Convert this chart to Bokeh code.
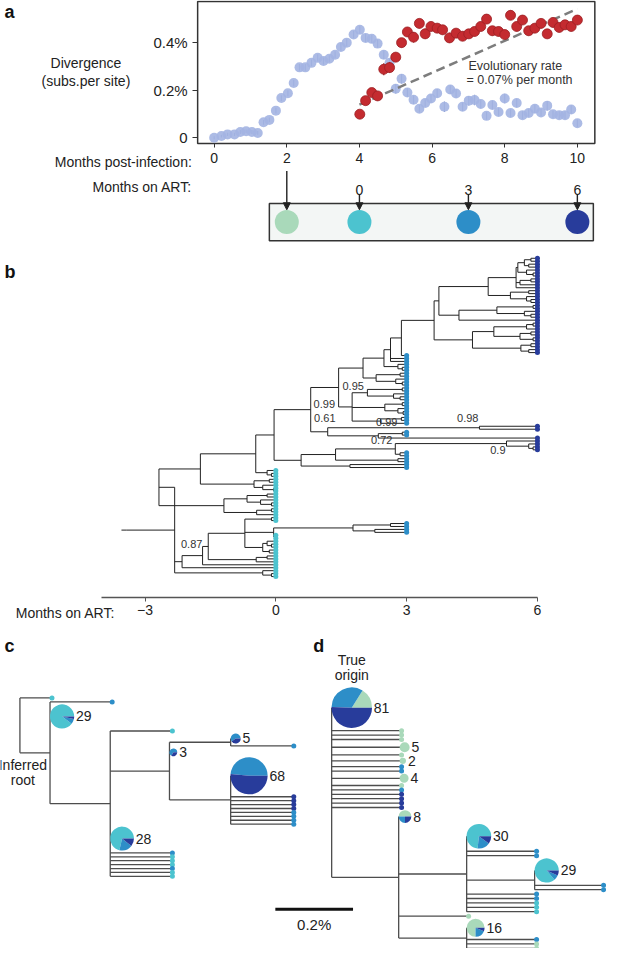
import math
import re

from bokeh.plotting import figure
from bokeh.models import Range1d, LinearAxis, FixedTicker, Label, Arrow, NormalHead
from bokeh.layouts import column
from bokeh.core.properties import value
from bokeh.embed import file_html
from bokeh.resources import INLINE

FONT = "Liberation Sans"
COL_G = "#a9d9ba"   # 2 months post-infection (pre-ART)
COL_A = "#4cc3cf"   # 0 months on ART
COL_B = "#2d8ec8"   # 3 months on ART
COL_C = "#283c9b"   # 6 months on ART
SAMPLE_COL = {"g": COL_G, "a": COL_A, "b": COL_B, "c": COL_C}

# ------------------------------------------------------------------ panel a data
blue_months = [0.0, 0.2, 0.37, 0.56, 0.72, 0.88, 1.04, 1.2, 1.36, 1.52,
               1.7, 1.85, 2.03, 2.19, 2.35, 2.51, 2.68, 2.85, 3.01, 3.17,
               3.33, 3.49, 3.65, 3.84, 4.01, 4.17, 4.34, 4.5, 4.67, 4.83,
               5.0, 5.16, 5.32, 5.49, 5.65, 5.81, 5.97, 6.14, 6.34, 6.5,
               6.66, 6.84, 7.01, 7.17, 7.34, 7.5, 7.66, 7.83, 8.0, 8.16,
               8.33, 8.49, 8.66, 8.83, 9.0, 9.17, 9.33, 9.5, 9.66, 9.83, 10.0]
blue_div = [0.0, 0.007, 0.014, 0.014, 0.024, 0.027, 0.024, 0.02, 0.065, 0.075,
            0.114, 0.167, 0.187, 0.23, 0.296, 0.296, 0.315, 0.336, 0.323, 0.332,
            0.349, 0.382, 0.4, 0.434, 0.454, 0.42, 0.416, 0.396, 0.349, 0.315,
            0.206, 0.248, 0.19, 0.16, 0.122, 0.146, 0.165, 0.187, 0.13, 0.203,
            0.186, 0.13, 0.156, 0.159, 0.142, 0.092, 0.138, 0.108, 0.165, 0.104,
            0.146, 0.095, 0.104, 0.122, 0.106, 0.135, 0.099, 0.095, 0.095, 0.119, 0.061]
blue_err = [0.006, 0.006, 0.007, 0.007, 0.008, 0.008, 0.008, 0.008, 0.01, 0.01,
            0.012, 0.012, 0.013, 0.013, 0.014, 0.014, 0.014, 0.015, 0.015, 0.015,
            0.015, 0.016, 0.016, 0.016, 0.017, 0.017, 0.017, 0.017, 0.018, 0.018,
            0.02, 0.02, 0.018, 0.018, 0.016, 0.016, 0.018, 0.018, 0.022, 0.018,
            0.018, 0.018, 0.02, 0.022, 0.018, 0.016, 0.018, 0.016, 0.02, 0.016,
            0.018, 0.016, 0.016, 0.018, 0.016, 0.02, 0.016, 0.016, 0.016, 0.018, 0.016]

red_months = [4.01, 4.17, 4.34, 4.5, 4.67, 4.83, 5.0, 5.16, 5.32, 5.49,
              5.65, 5.81, 5.97, 6.14, 6.29, 6.48, 6.66, 6.84, 7.01, 7.17,
              7.34, 7.5, 7.66, 7.83, 8.0, 8.16, 8.33, 8.49, 8.66, 8.83,
              9.0, 9.17, 9.33, 9.5, 9.66, 9.83, 10.0]
red_div = [0.099, 0.156, 0.19, 0.176, 0.288, 0.295, 0.339, 0.4, 0.445, 0.423,
           0.481, 0.437, 0.468, 0.461, 0.454, 0.42, 0.44, 0.427, 0.437, 0.447,
           0.468, 0.499, 0.45, 0.447, 0.434, 0.515, 0.468, 0.495, 0.45, 0.461,
           0.481, 0.437, 0.485, 0.464, 0.475, 0.468, 0.495]
red_err = [0.015, 0.016, 0.018, 0.018, 0.025, 0.022, 0.02, 0.02, 0.02, 0.022,
           0.02, 0.022, 0.02, 0.02, 0.02, 0.022, 0.02, 0.02, 0.02, 0.02,
           0.02, 0.02, 0.02, 0.02, 0.02, 0.02, 0.02, 0.02, 0.02, 0.02,
           0.02, 0.02, 0.02, 0.02, 0.02, 0.02, 0.02]

rate_months = [4.0, 10.0]
rate_div = [0.139, 0.542]
rate_text = ["Evolutionary rate", "= 0.07% per month"]

post_inf_ticks = [0, 2, 4, 6, 8, 10]
div_ticks = [0, 0.2, 0.4]
div_tick_labels = ["0", "0.2%", "0.4%"]
art_ticks_post_inf = [4, 7, 10]
art_tick_labels = ["0", "3", "6"]
sample_months_post_inf = [2, 4, 7, 10]
sample_colors = [COL_G, COL_A, COL_B, COL_C]

# ------------------------------------------------------------------ panel b tree
# internal node value = node time in months on ART; leaves a/b/c = 0/3/6 months
S1 = "((((c,c):5.85,(c,c):5.8):5.7,(c,(c,c):5.9):5.75):5.55,((c,c):5.85,c):5.6,c):5.51"
S2 = "((c,c):5.8,(c,(c,c):5.85):5.75):5.38"
S3 = "((c,c):5.9,(c,(c,c):5.85):5.7):5.07"
S4 = "(((c,c):5.9,c):5.75,((c,c):5.85,(c,c):5.9):5.6):5.0"
S5 = "((c,c):5.85,(c,c):5.8):5.62"
Q = "(((" + S1 + "," + S2 + "):4.87,(" + S3 + ",c):4.2):3.74,(" + S4 + "," + S5 + "):4.51):3.63"
N374 = "((((" + Q + ",b):2.88,b,b):2.63,(b,(b,b):2.9):2.8):2.48,((b,b):2.85,(b,(b,b):2.9):2.75):2.3):2.0"
N362 = "(((b,b):2.9,(b,(b,b):2.85):2.7):2.1,((b,b):2.9,(b,(b,b):2.92):2.8):2.5,((b,b):2.88,b):2.4):1.75"
N340 = "((c,c)[0.98]:4.67,((b,b)[0.99]:2.9,c):2.35)[0.61]:1.19"
N320 = "((" + N374 + "," + N362 + ")[0.95]:1.44," + N340 + ")[0.99]:0.8"
N408 = "((c,(c,(c,c):5.9):5.8)[0.9]:5.29,(b,b):2.85)[0.72]:2.74"
N310 = "((" + N408 + ",(b,b):2.8):1.37,(b,b):1.7):0.58"
N206 = "(((" + N320 + "," + N310 + "):-0.04,(a,(a,a):-0.1):-0.2):-0.46,((a,a):-0.15,(a,(a,a):-0.05):-0.3):-0.5):-1.73"
N232 = "(((a,a):-0.2,(a,(a,a):-0.1):-0.35):-0.66,((a,a):-0.1,a):-0.44):-1.19"
N253 = "((a,a):-0.1,(((b,b):2.63,(b,b):2.27):1.77,(a,a):-0.02):-0.05,((a,(a,a):-0.1):-0.2,(a,a):-0.15):-0.3):-0.71"
CL = "(((" + N253 + ",((a,a):-0.2,a):-0.45)[0.87]:-1.55,a):-1.68,a):-2.15,(a,(a,a):-0.1):-0.3):-2.32"
TREE_B = "(((" + N206 + "," + N232 + "):-2.68," + CL + "):-3.43,a)[1]:-3.74"
art_axis_ticks = [-3, 0, 3, 6]

# ------------------------------------------------------------------ panels c, d trees
# value = branch length (% divergence); {..} = pie of identical sequences
C_N4 = "({b3;c2},b:0.1625):0.1575"
C_N5 = "({b33;c35},c:0.1625,c:0.1625,c:0.1625,c:0.1625,b:0.1625,b:0.1625,b:0.1625,b:0.1625):0.1575"
C_N3 = "(" + C_N4 + ",{b2;c1}," + C_N5 + "):0.1525"
C_N2 = "(a:0.16," + C_N3 + ",{a20;b5;c3},b:0.16,a:0.16,a:0.16,a:0.16,b:0.16,a:0.16,a:0.16):0.155"
TREE_C = "(a:0.0825,(b:0.16,{a26;b2;c1}," + C_N2 + "):0.0775)"

D_N4 = "({a25;b2;c2},b:0.1775,b:0.1775):0.175"
D_N2 = "({a22;b5;c3},b:0.18,b:0.18," + D_N4 + ",b:0.18,b:0.18,a:0.18,a:0.18,a:0.18):0.175"
D_N3 = "({g12;b3;c1},b:0.18,g:0.18,g:0.18):0.175"
D_N1 = "({g4;b2;c2}," + D_N2 + ",g:0.18," + D_N3 + "):0.1725"
TREE_D = ("({g13;b27;c41},g:0.18,g:0.18,g:0.18,{g5}:0.18,g:0.18,{g2}:0.18,b:0.18,b:0.18,"
          "{g4}:0.18,g:0.18,b:0.18,c:0.18,c:0.18,c:0.18,c:0.18," + D_N1 + ")")
scale_bar_pct = 0.2


def parse_newick(s):
    s = re.sub(r"\s+", "", s)
    num_re = re.compile(r"-?\d+(\.\d+)?")
    pos = 0

    def node():
        nonlocal pos
        n = {}
        if s[pos] == "(":
            pos += 1
            kids = [node()]
            while s[pos] == ",":
                pos += 1
                kids.append(node())
            pos += 1
            n["children"] = kids
        elif s[pos] == "{":
            end = s.index("}", pos)
            n["pie"] = {p[0]: int(p[1:]) for p in s[pos + 1:end].split(";")}
            pos = end + 1
        else:
            n["leaf"] = s[pos]
            pos += 1
        if pos < len(s) and s[pos] == "[":
            end = s.index("]", pos)
            n["label"] = s[pos + 1:end]
            pos = end + 1
        if pos < len(s) and s[pos] == ":":
            pos += 1
            m = num_re.match(s, pos)
            n["v"] = float(m.group())
            pos = m.end()
        return n

    return node()


def base_fig(**kw):
    p = figure(output_backend="svg", toolbar_location=None, min_border=0,
               x_axis_location=None, y_axis_location=None, **kw)
    p.grid.visible = False
    p.outline_line_color = None
    p.background_fill_color = "white"
    p.border_fill_color = "white"
    return p


def style_axis(ax, size="14px"):
    ax.major_label_text_font = FONT
    ax.major_label_text_font_size = size
    ax.major_label_text_color = "#222222"
    ax.minor_tick_line_color = None


def add_label(p, x, y, text, size="14px", align="left", baseline="middle", bold=False, color="#222222"):
    p.add_layout(Label(x=x, y=y, text=text, text_font=FONT, text_font_size=size,
                       text_align=align, text_baseline=baseline, text_color=color,
                       text_font_style="bold" if bold else "normal"))


# ================================================================== panel a + ART row
# reference layout: 0 months at x=220 px, 37.4 px/month; 0% at y=140 px, 242.5 px per 1%
def ya(ref_px):
    return (140 - ref_px) / 242.5


A_X0, A_X1 = -0.4545, 10.481          # panel a frame (months post-infection)
A_Y0, A_Y1 = ya(146), ya(1)            # panel a frame (% divergence)

pA = base_fig(width=606, height=247, x_range=Range1d((0 - 220) / 37.4, (624 - 220) / 37.4),
              y_range=Range1d(ya(252), ya(0)))

pA.quad(left=[A_X0], right=[A_X1], bottom=[A_Y0], top=[A_Y1], fill_color=None,
        line_color="#333333", line_width=1.5)

ax_x = LinearAxis(fixed_location=A_Y0, ticker=FixedTicker(ticks=post_inf_ticks),
                  axis_line_color=None, major_tick_out=4, major_tick_in=0,
                  major_tick_line_color="#333333", major_label_standoff=5)
style_axis(ax_x)
pA.add_layout(ax_x, "below")
ax_y = LinearAxis(fixed_location=A_X0, ticker=FixedTicker(ticks=div_ticks),
                  major_label_overrides=dict(zip(div_ticks, div_tick_labels)),
                  axis_line_color=None, major_tick_out=5, major_tick_in=0,
                  major_tick_line_color="#333333", major_label_standoff=5)
style_axis(ax_y, "15px")
pA.add_layout(ax_y, "left")
ax_art = LinearAxis(fixed_location=ya(181), ticker=FixedTicker(ticks=art_ticks_post_inf),
                    major_label_overrides=dict(zip(art_ticks_post_inf, art_tick_labels)),
                    axis_line_color=None, major_tick_line_color=None, major_label_standoff=1)
style_axis(ax_art)
pA.add_layout(ax_art, "below")

pA.segment(x0=blue_months, x1=blue_months,
           y0=[d - e for d, e in zip(blue_div, blue_err)],
           y1=[d + e for d, e in zip(blue_div, blue_err)],
           line_color="#8797cc", line_width=1.2)
pA.scatter(blue_months, blue_div, size=10, fill_color="#a3b4e2", fill_alpha=0.9, line_color=None)
pA.line(rate_months, rate_div, line_dash="9 5", line_width=2.5, line_color="#7d7d7d")
pA.segment(x0=red_months, x1=red_months,
           y0=[d - e for d, e in zip(red_div, red_err)],
           y1=[d + e for d, e in zip(red_div, red_err)],
           line_color="#8e1b1f", line_width=1.2)
pA.scatter(red_months, red_div, size=10, fill_color="#c42b30", line_color="#9c1f23", line_width=0.8)
pA.text(x=[7.0, 6.95], y=[ya(67), ya(81)], text=rate_text, text_font=value(FONT),
        text_font_size="12.5px", text_align="left", text_baseline="middle", text_color="#333333")

# sample box with arrows
pA.quad(left=[1.52], right=[10.44], top=[ya(207)], bottom=[ya(245)],
        fill_color="#f3f6f5", line_color="#333333", line_width=1.5)
pA.scatter(sample_months_post_inf, [ya(226)] * len(sample_months_post_inf), size=24,
           fill_color=sample_colors, line_color=None)
for m in sample_months_post_inf:
    y_start = ya(174) if m not in art_ticks_post_inf else ya(198)
    pA.add_layout(Arrow(end=NormalHead(size=7, fill_color="#222222", line_color="#222222"),
                        x_start=m, y_start=y_start, x_end=m, y_end=ya(213.5),
                        line_color="#222222", line_width=1.4))

add_label(pA, (197 - 220) / 37.4, ya(165), "Months post-infection:", align="right")
add_label(pA, (197 - 220) / 37.4, ya(190), "Months on ART:", align="right")
add_label(pA, (88 - 220) / 37.4, ya(64), "Divergence", align="center")
add_label(pA, (88 - 220) / 37.4, ya(82), "(subs.per site)", align="center")
add_label(pA, (4 - 220) / 37.4, ya(2), "a", size="18px", baseline="top", bold=True, color="#111111")

# ================================================================== panel b
tree_b = parse_newick(TREE_B)
TIP_TIME = {"a": 0.0, "b": 3.0, "c": 6.0}
_count = [0]


def layout_b(n):
    if "children" in n:
        for ch in n["children"]:
            layout_b(ch)
        n["x"] = n["v"]
        n["y"] = (n["children"][0]["y"] + n["children"][-1]["y"]) / 2
    else:
        n["x"] = TIP_TIME[n["leaf"]]
        n["y"] = _count[0]
        _count[0] += 1


layout_b(tree_b)
n_tips_b = _count[0]
SP_B = (588 - 263) / (n_tips_b - 1)     # reference px per tip row
PX_MONTH = 44.9                          # reference px per month
M0_X = 283.5                             # reference x of month 0

bx0, by0, bx1, by1 = [], [], [], []
tbx, tby, tbc = [], [], []
labelled = []


def collect_b(n):
    if "children" in n:
        ys = [c["y"] for c in n["children"]]
        bx0.append(n["x"]); bx1.append(n["x"]); by0.append(-ys[0]); by1.append(-ys[-1])
        for c in n["children"]:
            bx0.append(n["x"]); bx1.append(c["x"]); by0.append(-c["y"]); by1.append(-c["y"])
            collect_b(c)
        if "label" in n:
            labelled.append(n)
    else:
        tbx.append(n["x"]); tby.append(-n["y"]); tbc.append(SAMPLE_COL[n["leaf"]])


collect_b(tree_b)
bx0.append(tree_b["x"] - 0.11); bx1.append(tree_b["x"]); by0.append(-tree_b["y"]); by1.append(-tree_b["y"])


def yb(ref_px):
    return -(ref_px - 263) / SP_B


pB = base_fig(width=606, height=380,
              x_range=Range1d((0 - M0_X) / PX_MONTH, (624 - M0_X) / PX_MONTH),
              y_range=Range1d(yb(640), yb(252)))
ax_b = LinearAxis(fixed_location=yb(609), ticker=FixedTicker(ticks=art_axis_ticks),
                  major_label_overrides={-3: "\u22123"}, bounds=(-4.0, 6.0),
                  axis_line_color="#555555", axis_line_width=1.5,
                  major_tick_line_color="#555555", major_tick_out=4, major_tick_in=0,
                  major_label_standoff=4)
style_axis(ax_b)
pB.add_layout(ax_b, "below")

pB.segment(x0=bx0, y0=by0, x1=bx1, y1=by1, line_color="#222222", line_width=1)
pB.scatter(tbx, tby, size=5, fill_color=tbc, line_color=None)

b_label_offsets = {
    ("1", -3.74): ("left", 3, 0),
    ("0.99", 0.8): ("left", 3, -6),
    ("0.95", 1.44): ("left", 4, -2),
    ("0.61", 1.19): ("left", -14, -14),
    ("0.98", 4.67): ("right", -1, -10),
    ("0.99", 2.9): ("right", -5, -12),
    ("0.72", 2.74): ("right", -3, -9),
    ("0.9", 5.29): ("right", -1, 7),
    ("0.87", -1.55): ("right", -6, -3),
}
for align in ("left", "right"):
    lx, ly, lt = [], [], []
    for n in labelled:
        a, dx, dy = b_label_offsets.get((n["label"], n["x"]), ("left", 3, 0))
        if a != align:
            continue
        lx.append(n["x"] + dx / PX_MONTH)
        ly.append(-(n["y"] + dy / SP_B))
        lt.append(n["label"])
    pB.text(x=lx, y=ly, text=lt, text_font=value(FONT), text_font_size="11px",
            text_align=align, text_baseline="middle", text_color="#333333")

add_label(pB, (118 - M0_X) / PX_MONTH, yb(625), "Months on ART:", align="right")
add_label(pB, (4 - M0_X) / PX_MONTH, yb(267), "b", size="18px", baseline="top",
          bold=True, color="#111111")

# ================================================================== panels c and d
PX_PCT = 400.0       # reference px per 1% divergence
PIE_K = 2.3          # pie radius (ref px) per sqrt(sequence count)
PAGE_K = 321 / 328   # page px per reference px in this figure


def layout_slots(root, x0, y0, half_tip):
    state = {"cursor": None}

    def slot(half):
        c = y0 if state["cursor"] is None else state["cursor"] + half
        state["cursor"] = c + half
        return c

    def walk(n, x):
        n["x"] = x
        if "children" in n:
            for ch in n["children"]:
                walk(ch, x + ch.get("v", 0.0))
            n["y"] = (n["children"][0]["y"] + n["children"][-1]["y"]) / 2
        elif "pie" in n:
            n["r"] = PIE_K * math.sqrt(sum(n["pie"].values()))
            n["y"] = slot(n["r"] + 0.5)
        else:
            n["y"] = slot(half_tip)

    walk(root, x0)


seg = {"x0": [], "y0": [], "x1": [], "y1": []}
tips = {"x": [], "y": [], "c": []}
wedges = {"x": [], "y": [], "r": [], "s": [], "e": [], "c": []}
pie_text = {"x": [], "y": [], "t": []}
pie_centres = []


def add_seg(x0, y0, x1, y1):
    seg["x0"].append(x0); seg["y0"].append(-y0); seg["x1"].append(x1); seg["y1"].append(-y1)


def add_pie(n, cx):
    total = sum(n["pie"].values())
    start = 0.0
    for k in "gabc":
        if k in n["pie"]:
            end = start + 2 * math.pi * n["pie"][k] / total
            wedges["x"].append(cx); wedges["y"].append(-n["y"]); wedges["r"].append(n["r"] * PAGE_K)
            wedges["s"].append(start); wedges["e"].append(end); wedges["c"].append(SAMPLE_COL[k])
            start = end
    pie_text["x"].append(cx + (n["r"] + 2) / PX_PCT); pie_text["y"].append(-n["y"])
    pie_text["t"].append(str(total))
    pie_centres.append((cx, n["y"], n["r"]))


def collect_cd(n):
    ys = [c["y"] for c in n["children"]]
    add_seg(n["x"], ys[0], n["x"], ys[-1])
    for c in n["children"]:
        if "pie" in c:
            if c.get("v", 0.0) == 0.0:
                add_pie(c, n["x"] + c["r"] / PX_PCT)
            else:
                add_seg(n["x"], c["y"], c["x"], c["y"])
                add_pie(c, c["x"] + (c["r"] - 2) / PX_PCT)
        elif "children" in c:
            add_seg(n["x"], c["y"], c["x"], c["y"])
            collect_cd(c)
        else:
            add_seg(n["x"], c["y"], c["x"], c["y"])
            tips["x"].append(c["x"]); tips["y"].append(-c["y"]); tips["c"].append(SAMPLE_COL[c["leaf"]])


tree_c = parse_newick(TREE_C)
layout_slots(tree_c, 20 / PX_PCT, 712, 2.0)
collect_cd(tree_c)
n_pies_c = len(pie_centres)
tree_d = parse_newick(TREE_D)
layout_slots(tree_d, 341 / PX_PCT, 722, 2.25)
collect_cd(tree_d)

pCD = base_fig(width=606, height=321, x_range=Range1d(0, 624 / PX_PCT), y_range=Range1d(-968, -640))
pCD.segment(x0=seg["x0"], y0=seg["y0"], x1=seg["x1"], y1=seg["y1"], line_color="#4d4d4d", line_width=1.3)
pCD.scatter(tips["x"], tips["y"], size=5, fill_color=tips["c"], line_color=None)
pCD.wedge(x=wedges["x"], y=wedges["y"], radius=wedges["r"], radius_units="screen",
          start_angle=wedges["s"], end_angle=wedges["e"], fill_color=wedges["c"], line_color=None)
pCD.text(x=pie_text["x"], y=pie_text["y"], text=pie_text["t"], text_font=value(FONT),
         text_font_size="14px", text_baseline="middle", text_align="left", text_color="#222222")

# scale bar
sb_x0 = 283 / PX_PCT
pCD.segment(x0=[sb_x0], x1=[sb_x0 + scale_bar_pct], y0=[-928], y1=[-928], line_color="#111111", line_width=3)
add_label(pCD, sb_x0 + scale_bar_pct / 2, -943, "%g%%" % scale_bar_pct, size="15px", align="center")

# annotations
low_child = tree_c["children"][-1]
add_label(pCD, tree_c["x"] + 3 / PX_PCT, -(low_child["y"] + 12), "Inferred", align="center")
add_label(pCD, tree_c["x"] + 3 / PX_PCT, -(low_child["y"] + 28), "root", align="center")
ox, oy, orad = pie_centres[n_pies_c]
add_label(pCD, ox, -(oy - orad - 28), "True", align="center")
add_label(pCD, ox, -(oy - orad - 13), "origin", align="center")
add_label(pCD, 4 / PX_PCT, -649, "c", size="18px", baseline="top", bold=True, color="#111111")
add_label(pCD, 322 / PX_PCT, -649, "d", size="18px", baseline="top", bold=True, color="#111111")

layout = column(pA, pB, pCD, spacing=0)
open("out.html", "w").write(file_html(layout, INLINE))
